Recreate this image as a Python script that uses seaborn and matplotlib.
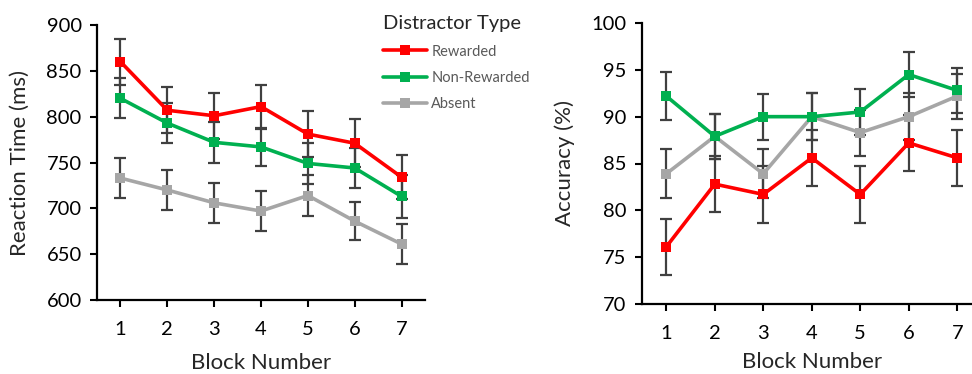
import matplotlib
matplotlib.use("Agg")
import matplotlib.pyplot as plt
import seaborn as sns
import pandas as pd

blocks = [1, 2, 3, 4, 5, 6, 7]
series_names = ["Rewarded", "Non-Rewarded", "Absent"]

rt_rewarded = [860, 807, 801, 811, 781, 771, 734]
rt_rewarded_err = [25, 25, 25, 24, 25, 26, 24]
rt_nonrewarded = [820, 793, 772, 767, 749, 744, 713]
rt_nonrewarded_err = [22, 22, 22, 21, 22, 22, 23]
rt_absent = [733, 720, 706, 697, 714, 686, 661]
rt_absent_err = [22, 22, 22, 22, 22, 21, 22]

acc_rewarded = [76.1, 82.8, 81.7, 85.6, 81.7, 87.2, 85.6]
acc_rewarded_err = [3.0, 3.0, 3.0, 3.0, 3.0, 3.0, 3.0]
acc_nonrewarded = [92.2, 87.9, 90.0, 90.0, 90.5, 94.5, 92.8]
acc_nonrewarded_err = [2.6, 2.4, 2.45, 2.5, 2.5, 2.4, 2.4]
acc_absent = [83.9, 87.9, 83.9, 90.0, 88.3, 90.0, 92.2]
acc_absent_err = [2.6, 2.4, 2.6, 2.5, 2.45, 2.5, 2.4]

colors = {"Rewarded": "#FF0000", "Non-Rewarded": "#00B050", "Absent": "#A6A6A6"}

sns.set_style("ticks")
plt.rcParams["font.family"] = ["Lato", "DejaVu Sans"]

fig = plt.figure(figsize=(9.72, 3.74), dpi=100)
ax1 = fig.add_axes([97/972, 1 - 300/374, 328/972, 275/374])
ax2 = fig.add_axes([642/972, 1 - 304/374, 339.5/972, 281/374])

rt_vals = {"Rewarded": (rt_rewarded, rt_rewarded_err),
           "Non-Rewarded": (rt_nonrewarded, rt_nonrewarded_err),
           "Absent": (rt_absent, rt_absent_err)}
acc_vals = {"Rewarded": (acc_rewarded, acc_rewarded_err),
            "Non-Rewarded": (acc_nonrewarded, acc_nonrewarded_err),
            "Absent": (acc_absent, acc_absent_err)}

def draw(ax, vals, order, xlabelpad):
    for name in order:
        y, e = vals[name]
        ax.errorbar(blocks, y, yerr=e, fmt="none", ecolor="#404040",
                    elinewidth=1.6, capsize=4, capthick=1.6, zorder=2)
    for name in order:
        y, e = vals[name]
        df = pd.DataFrame({"Block": blocks, "Value": y})
        sns.lineplot(data=df, x="Block", y="Value", ax=ax, color=colors[name],
                     marker="s", markersize=7, markeredgewidth=0, linewidth=2.6,
                     label=name, zorder=3)
    ax.set_xlim(0.5, 7.5)
    ax.set_xticks(blocks)
    for s in ["top", "right"]:
        ax.spines[s].set_visible(False)
    for s in ["left", "bottom"]:
        ax.spines[s].set_linewidth(1.6)
        ax.spines[s].set_color("black")
    ax.tick_params(axis="both", labelsize=14.5, width=1.5, length=5, colors="black")
    ax.tick_params(axis="x", pad=10)
    ax.tick_params(axis="y", pad=6)
    ax.set_xlabel("Block Number", fontsize=16, labelpad=xlabelpad)
    ax.get_legend().remove()

draw(ax1, rt_vals, ["Absent", "Non-Rewarded", "Rewarded"], 11)
ax1.set_ylim(600, 900)
ax1.set_yticks(range(600, 901, 50))
ax1.set_ylabel("Reaction Time (ms)", fontsize=16, labelpad=12)

draw(ax2, acc_vals, ["Rewarded", "Absent", "Non-Rewarded"], 7)
ax2.set_ylim(70, 100)
ax2.set_yticks(range(70, 101, 5))
ax2.set_ylabel("Accuracy (%)", fontsize=16, labelpad=12)

handles, labels = ax1.get_legend_handles_labels()
hmap = dict(zip(labels, handles))
leg = fig.legend([hmap[n] for n in series_names], series_names,
                 loc="upper left", bbox_to_anchor=(370/972, 1 - 2/374),
                 frameon=False, title="Distractor Type", title_fontsize=14.5,
                 fontsize=10.5, handlelength=3.0, handletextpad=0.3,
                 labelspacing=0.85, alignment="left")
for t in leg.get_texts():
    t.set_color("#595959")

fig.savefig("out.png", dpi=100)
